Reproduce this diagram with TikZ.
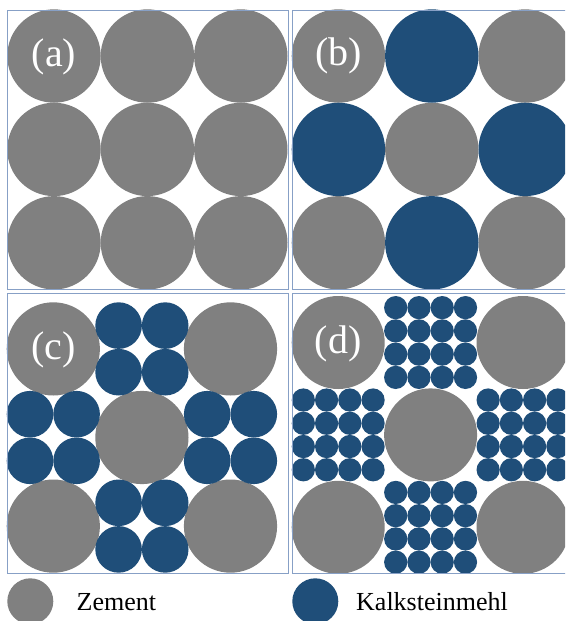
\documentclass[tikz,border=0pt]{standalone}
\usepackage{fontspec}
\setmainfont{Liberation Serif}
\definecolor{cem}{RGB}{128,128,128}
\definecolor{kalk}{RGB}{31,78,121}
\definecolor{frm}{RGB}{135,160,198}
\tikzset{
  lbl/.style={anchor=base, inner sep=0pt, text=white, font=\fontsize{40}{42}\selectfont},
  legtext/.style={anchor=base west, inner sep=0pt, text=black, font=\fontsize{26}{28}\selectfont},
  frame/.style={draw=frm, line width=0.9pt}
}
% \cpanel{x0}{y0}{step}{R}{n}{mode}: mode 0 = all cement, 1 = big limestone, 2 = n x n small limestone
\newcommand\cpanel[6]{%
  \foreach \i/\j in {0/0,2/0,1/1,0/2,2/2}{
    \fill[cem] ({#1+#4+\i*#3},{#2+#4+\j*#3}) circle (#4);
  }
  \foreach \i/\j in {1/0,0/1,2/1,1/2}{
    \ifcase#6
      \fill[cem] ({#1+#4+\i*#3},{#2+#4+\j*#3}) circle (#4);
    \or
      \fill[kalk] ({#1+#4+\i*#3},{#2+#4+\j*#3}) circle (#4);
    \or
      \foreach \k in {1,...,#5}{\foreach \l in {1,...,#5}{
        \fill[kalk] ({#1+\i*#3+(2*\k-1)*#4/#5},{#2+\j*#3+(2*\l-1)*#4/#5}) circle ({#4/#5});
      }}
    \fi
  }
}
\begin{document}
\begin{tikzpicture}[x=1pt,y=-1pt]
\useasboundingbox (0,0) rectangle (565,621);
\begin{scope}
\clip (0,0) rectangle (565,621);
% ---------- panels
\cpanel{7.3}{9.3}{93.4}{46.7}{1}{0}
\cpanel{291.7}{9.3}{93.4}{46.7}{1}{1}
\cpanel{6.7}{302.3}{88.6}{46.6}{2}{2}
\cpanel{291.7}{296}{92.4}{46.5}{4}{2}
% ---------- frames
\draw[frame] (7.3,10) rectangle (288.3,289.5);
\draw[frame] (292,10) rectangle (575,289.5);
\draw[frame] (7.3,293.8) rectangle (288.3,573.3);
\draw[frame] (292,293.8) rectangle (575,573.3);
% ---------- labels
\node[lbl] (la) at (54,66.8) {(a)};
\node[lbl] (lb) at (338.4,65.2) {(b)};
\node[lbl] (lc) at (53.8,359.6) {(c)};
\node[lbl] (ld) at (338.2,353.3) {(d)};
% ---------- legend
\fill[cem] (30.3,601.3) circle (23);
\node[legtext] (lz) at (76.5,610.5) {Zement};
\fill[kalk] (315.3,601.3) circle (23);
\node[legtext] (lk) at (356,610.5) {Kalksteinmehl};
\end{scope}
\end{tikzpicture}
\end{document}
